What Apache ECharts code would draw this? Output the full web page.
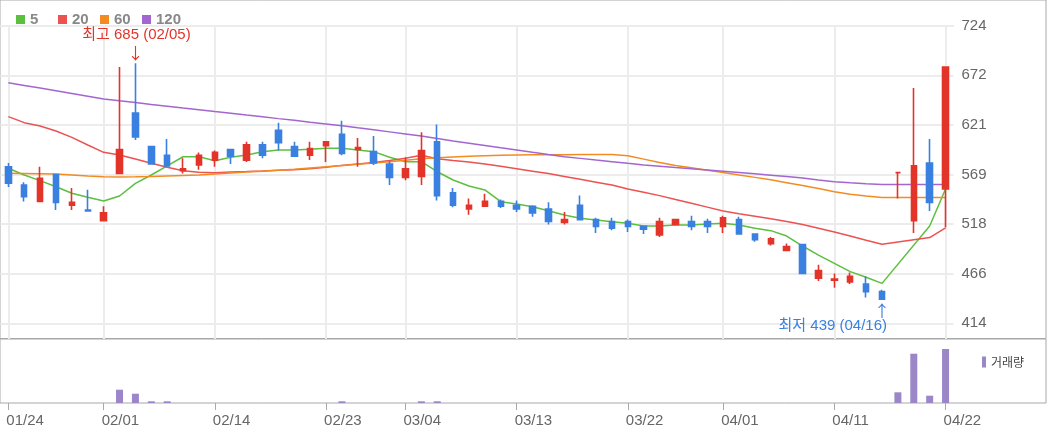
<!DOCTYPE html>
<html><head><meta charset="utf-8">
<script src="https://cdn.jsdelivr.net/npm/echarts@6/dist/echarts.min.js"></script>
<style>html,body{margin:0;padding:0;background:#fff}#c{width:1050px;height:434px}</style>
</head><body><div id="c"></div>
<script>
// ---- data ----
const dates = ['01/24','01/25','01/26','01/29','01/30','01/31','02/01','02/02','02/05','02/06',
  '02/07','02/08','02/13','02/14','02/15','02/16','02/19','02/20','02/21','02/22',
  '02/23','02/26','02/27','02/28','02/29','03/04','03/05','03/06','03/07','03/08',
  '03/11','03/12','03/13','03/14','03/15','03/18','03/19','03/20','03/21','03/22',
  '03/25','03/26','03/27','03/28','03/29','04/01','04/02','04/03','04/04','04/05',
  '04/08','04/09','04/11','04/12','04/15','04/16','04/17','04/18','04/19','04/22'];
const tickDates = ['01/24','02/01','02/14','02/23','03/04','03/13','03/22','04/01','04/11','04/22'];
const yTickLabels = ['414','466','518','569','621','672','724'];
const maNames = ['5', '20', '60', '120'];

const openP  = [577,558,541,569,537,532,521,570,633,598,589,573,579,584,595,584,600,615,598,589,
  599,611,595,593,580,566,567,603,550,533,536,541,537,536,533,519,537,522,520,520,
  515,506,517,520,520,515,522,507,497,490,496,461,459,457,455,447,571,521,581,554];
const closeP = [560,546,565,540,540,531,529,595,608,580,578,575,589,592,588,600,589,602,588,596,
  603,591,597,581,566,575,594,547,537,537,541,536,533,529,520,522,522,515,513,515,
  512,520,522,515,515,524,507,501,502,494,466,469,460,463,447,439,571,578,540,681];
const lowP   = [556,541,541,532,532,531,521,570,605,580,578,570,574,577,580,582,586,594,588,584,
  582,589,577,579,558,563,558,542,535,527,536,534,530,525,517,517,522,508,511,509,
  507,504,516,511,508,508,507,499,495,490,466,458,451,455,441,439,544,508,531,514];
const highP  = [581,561,577,569,555,553,536,681,685,598,606,586,592,594,595,603,603,623,603,603,
  603,625,607,609,583,587,613,621,555,544,549,543,542,537,540,530,547,524,524,522,
  516,524,523,526,523,526,525,507,504,497,496,475,466,467,463,449,571,659,606,681];

const ma5 = [575.5,568.5,562.6,556.3,549.4,545.2,541.4,546.6,559.8,568.5,577.9,587.5,587.5,583.4,586.9,
  589.3,592.8,594.5,594.5,595.2,596.3,596.3,594.5,592.8,586.9,582.3,582.3,571.9,563.3,557.0,
  552.9,540.7,538.3,535.5,531.3,526.8,523.4,521.6,519.8,518.2,515.4,515.4,516.4,516.4,517.4,
  518.2,516.4,513.0,510.5,504.9,494.5,485.1,476.5,467.8,461.9,455.6,null,null,515.4,553.9];
const ma20 = [629.3,623.0,619.5,614.3,607.7,599.7,592.1,589.3,585.1,580.7,576.5,573.0,571.3,570.9,571.6,
  572.0,572.6,573.3,574.0,575.0,576.5,578.5,580.0,581.5,583.5,586.0,589.0,585.5,583.5,582.0,
  580.0,577.5,575.0,572.5,570.0,567.0,564.0,561.0,558.0,554.0,550.5,547.0,543.0,539.0,535.0,
  531.0,528.0,525.5,523.0,520.0,517.0,513.0,509.0,505.0,500.5,496.3,null,null,503.3,513.5];
const ma60 = [570.2,570.0,569.8,569.5,568.5,567.5,566.6,566.5,566.6,567.0,567.5,568.0,568.5,569.5,570.5,
  571.5,572.5,573.5,574.5,575.8,577.1,578.5,579.8,581.0,582.3,583.8,585.3,586.5,587.3,588.0,
  588.5,589.0,589.3,589.5,589.6,589.7,589.8,589.9,589.8,588.5,585.0,581.5,578.4,576.0,573.5,
  571.1,568.5,566.0,563.5,560.5,557.5,554.5,551.1,548.5,546.5,545.0,null,null,545.0,545.0];
const ma120 = [664.6,661.8,659.0,656.2,653.4,650.5,647.6,645.7,643.9,642.0,640.2,638.3,636.5,634.6,632.8,
  630.9,629.1,627.2,625.4,623.5,621.7,619.8,617.6,615.5,613.4,611.2,609.0,606.5,604.0,601.6,
  599.2,596.8,594.5,592.1,589.8,587.6,585.8,584.0,582.3,580.6,579.0,577.6,576.2,575.0,573.7,
  572.4,571.1,569.7,568.3,566.8,565.3,563.3,561.5,560.3,559.3,558.5,null,null,558.5,558.5];

const volume = [0,0,0,0,0,0,0,133000,93000,17000,17000,0,0,0,0,
  0,0,0,0,0,0,17000,0,0,0,0,17000,17000,0,0,
  0,0,0,0,0,0,0,0,0,0,0,0,0,0,0,
  0,0,0,0,0,0,0,0,0,0,0,107000,493000,73000,540000];

const highInfo = {idx: 8, value: 685, text: '최고 685 (02/05)'};
const lowInfo = {idx: 55, value: 439, text: '최저 439 (04/16)'};

// ---- chart ----
const RED = '#e3342a', BLUE = '#3a80e0';
const maColors = ['#5cbf3f', '#ec5252', '#f28c22', '#a366d0'];
const maData = [ma5, ma20, ma60, ma120];
const candleData = openP.map((o, i) => [o, closeP[i], lowP[i], highP[i]]);
const yMin = 414, yMax = 724, yStep = (yMax - yMin) / 6;
const numFont = '"Liberation Sans", Arial, sans-serif';
const annFont = '"Liberation Sans", "Noto Sans CJK KR", sans-serif';
const krFont = '"Noto Sans CJK KR", "Liberation Sans", sans-serif';
const isTick = (i, v) => tickDates.indexOf(v) >= 0;
const hidden = {show: false};

const maLegends = maNames.map((n, k) => ({
  data: [n], left: 11 + 42 * k, top: 7, icon: 'rect', itemWidth: 9, itemHeight: 9, selectedMode: false,
  textStyle: {fontFamily: numFont, fontWeight: 'bold', fontSize: 15, color: '#888'}
}));

const chart = echarts.init(document.getElementById('c'), null, {renderer: 'canvas'});
chart.setOption({
  animation: false,
  backgroundColor: '#fff',
  legend: maLegends.concat([{
    data: ['거래량'], left: 977, top: 351, icon: 'rect', itemWidth: 4, itemHeight: 11, selectedMode: false,
    textStyle: {fontFamily: krFont, fontSize: 12, color: '#444'}
  }]),
  grid: [
    {left: 0.4, top: 25.7, width: 953.1, height: 297.6},
    {left: 8.34, top: 25.7, width: 937.2, height: 313.3},
    {left: 0.4, top: 339, width: 953.1, height: 64},
    {left: 0, top: 339, width: 1046, height: 64, show: true, borderColor: '#a8a8a8', borderWidth: 1},
    {left: -5, top: -5, width: 1051, height: 343.5, show: true, borderColor: '#a8a8a8', borderWidth: 1}
  ],
  xAxis: [
    {type: 'category', gridIndex: 0, data: dates, boundaryGap: true, axisLine: hidden, axisTick: hidden, axisLabel: hidden, splitLine: hidden},
    {type: 'category', gridIndex: 1, data: dates, boundaryGap: false, axisLine: hidden, axisTick: hidden, axisLabel: hidden,
      splitLine: {show: true, interval: isTick, lineStyle: {color: '#ececec', width: 2}}},
    {type: 'category', gridIndex: 2, data: dates, boundaryGap: true, axisLine: hidden,
      axisTick: {show: true, alignWithLabel: true, interval: isTick, length: 7, lineStyle: {color: '#aaa'}},
      axisLabel: {show: true, interval: isTick, align: 'left', margin: 10, fontFamily: numFont, fontSize: 15, color: '#666', padding: [0, 0, 0, -2]},
      splitLine: hidden},
    {type: 'category', gridIndex: 3, data: dates, show: false},
    {type: 'category', gridIndex: 4, data: dates, show: false}
  ],
  yAxis: [
    {type: 'value', gridIndex: 0, position: 'right', min: yMin, max: yMax, interval: yStep,
      axisLine: hidden, axisTick: hidden,
      axisLabel: {margin: 8, fontFamily: numFont, fontSize: 15, color: '#666',
        formatter: v => yTickLabels[Math.round((v - yMin) / yStep)]},
      splitLine: {show: true, lineStyle: {color: '#ececec', width: 2}}},
    {type: 'value', gridIndex: 1, min: 0, max: 1, show: false},
    {type: 'value', gridIndex: 2, min: 0, max: 640000, show: false},
    {type: 'value', gridIndex: 3, min: 0, max: 1, show: false},
    {type: 'value', gridIndex: 4, min: 0, max: 1, show: false}
  ],
  series: [
    {type: 'candlestick', name: 'price', xAxisIndex: 0, yAxisIndex: 0, data: candleData, barWidth: 6, z: 5,
      itemStyle: {color: RED, color0: BLUE, borderColor: RED, borderColor0: BLUE, borderWidth: 1.6},
      markPoint: {
        symbol: 'rect', symbolSize: 1, itemStyle: {color: 'rgba(0,0,0,0)'}, silent: true,
        data: [
          {coord: [highInfo.idx, highInfo.value], label: {show: true, formatter: '↓', position: 'inside', offset: [0, -10], color: RED, fontSize: 16, fontFamily: krFont}},
          {coord: [highInfo.idx, highInfo.value], label: {show: true, formatter: highInfo.text, position: 'inside', offset: [1, -28], color: RED, fontSize: 15, fontFamily: annFont}},
          {coord: [lowInfo.idx, lowInfo.value], label: {show: true, formatter: '↑', position: 'inside', offset: [0, 12], color: BLUE, fontSize: 16, fontFamily: krFont}},
          {coord: [lowInfo.idx, lowInfo.value], label: {show: true, formatter: lowInfo.text, position: 'inside', align: 'right', offset: [5, 27], color: BLUE, fontSize: 15, fontFamily: annFont}}
        ]
      }}
  ].concat(maNames.map((n, k) => ({
    type: 'line', name: n, data: maData[k], xAxisIndex: 0, yAxisIndex: 0, symbol: 'none', connectNulls: true,
    color: maColors[k], lineStyle: {width: 1.5}, z: 3
  }))).concat([
    {type: 'bar', name: '거래량', data: volume, xAxisIndex: 2, yAxisIndex: 2, barWidth: 7, color: '#9b86c8'}
  ])
});
</script></body></html>
